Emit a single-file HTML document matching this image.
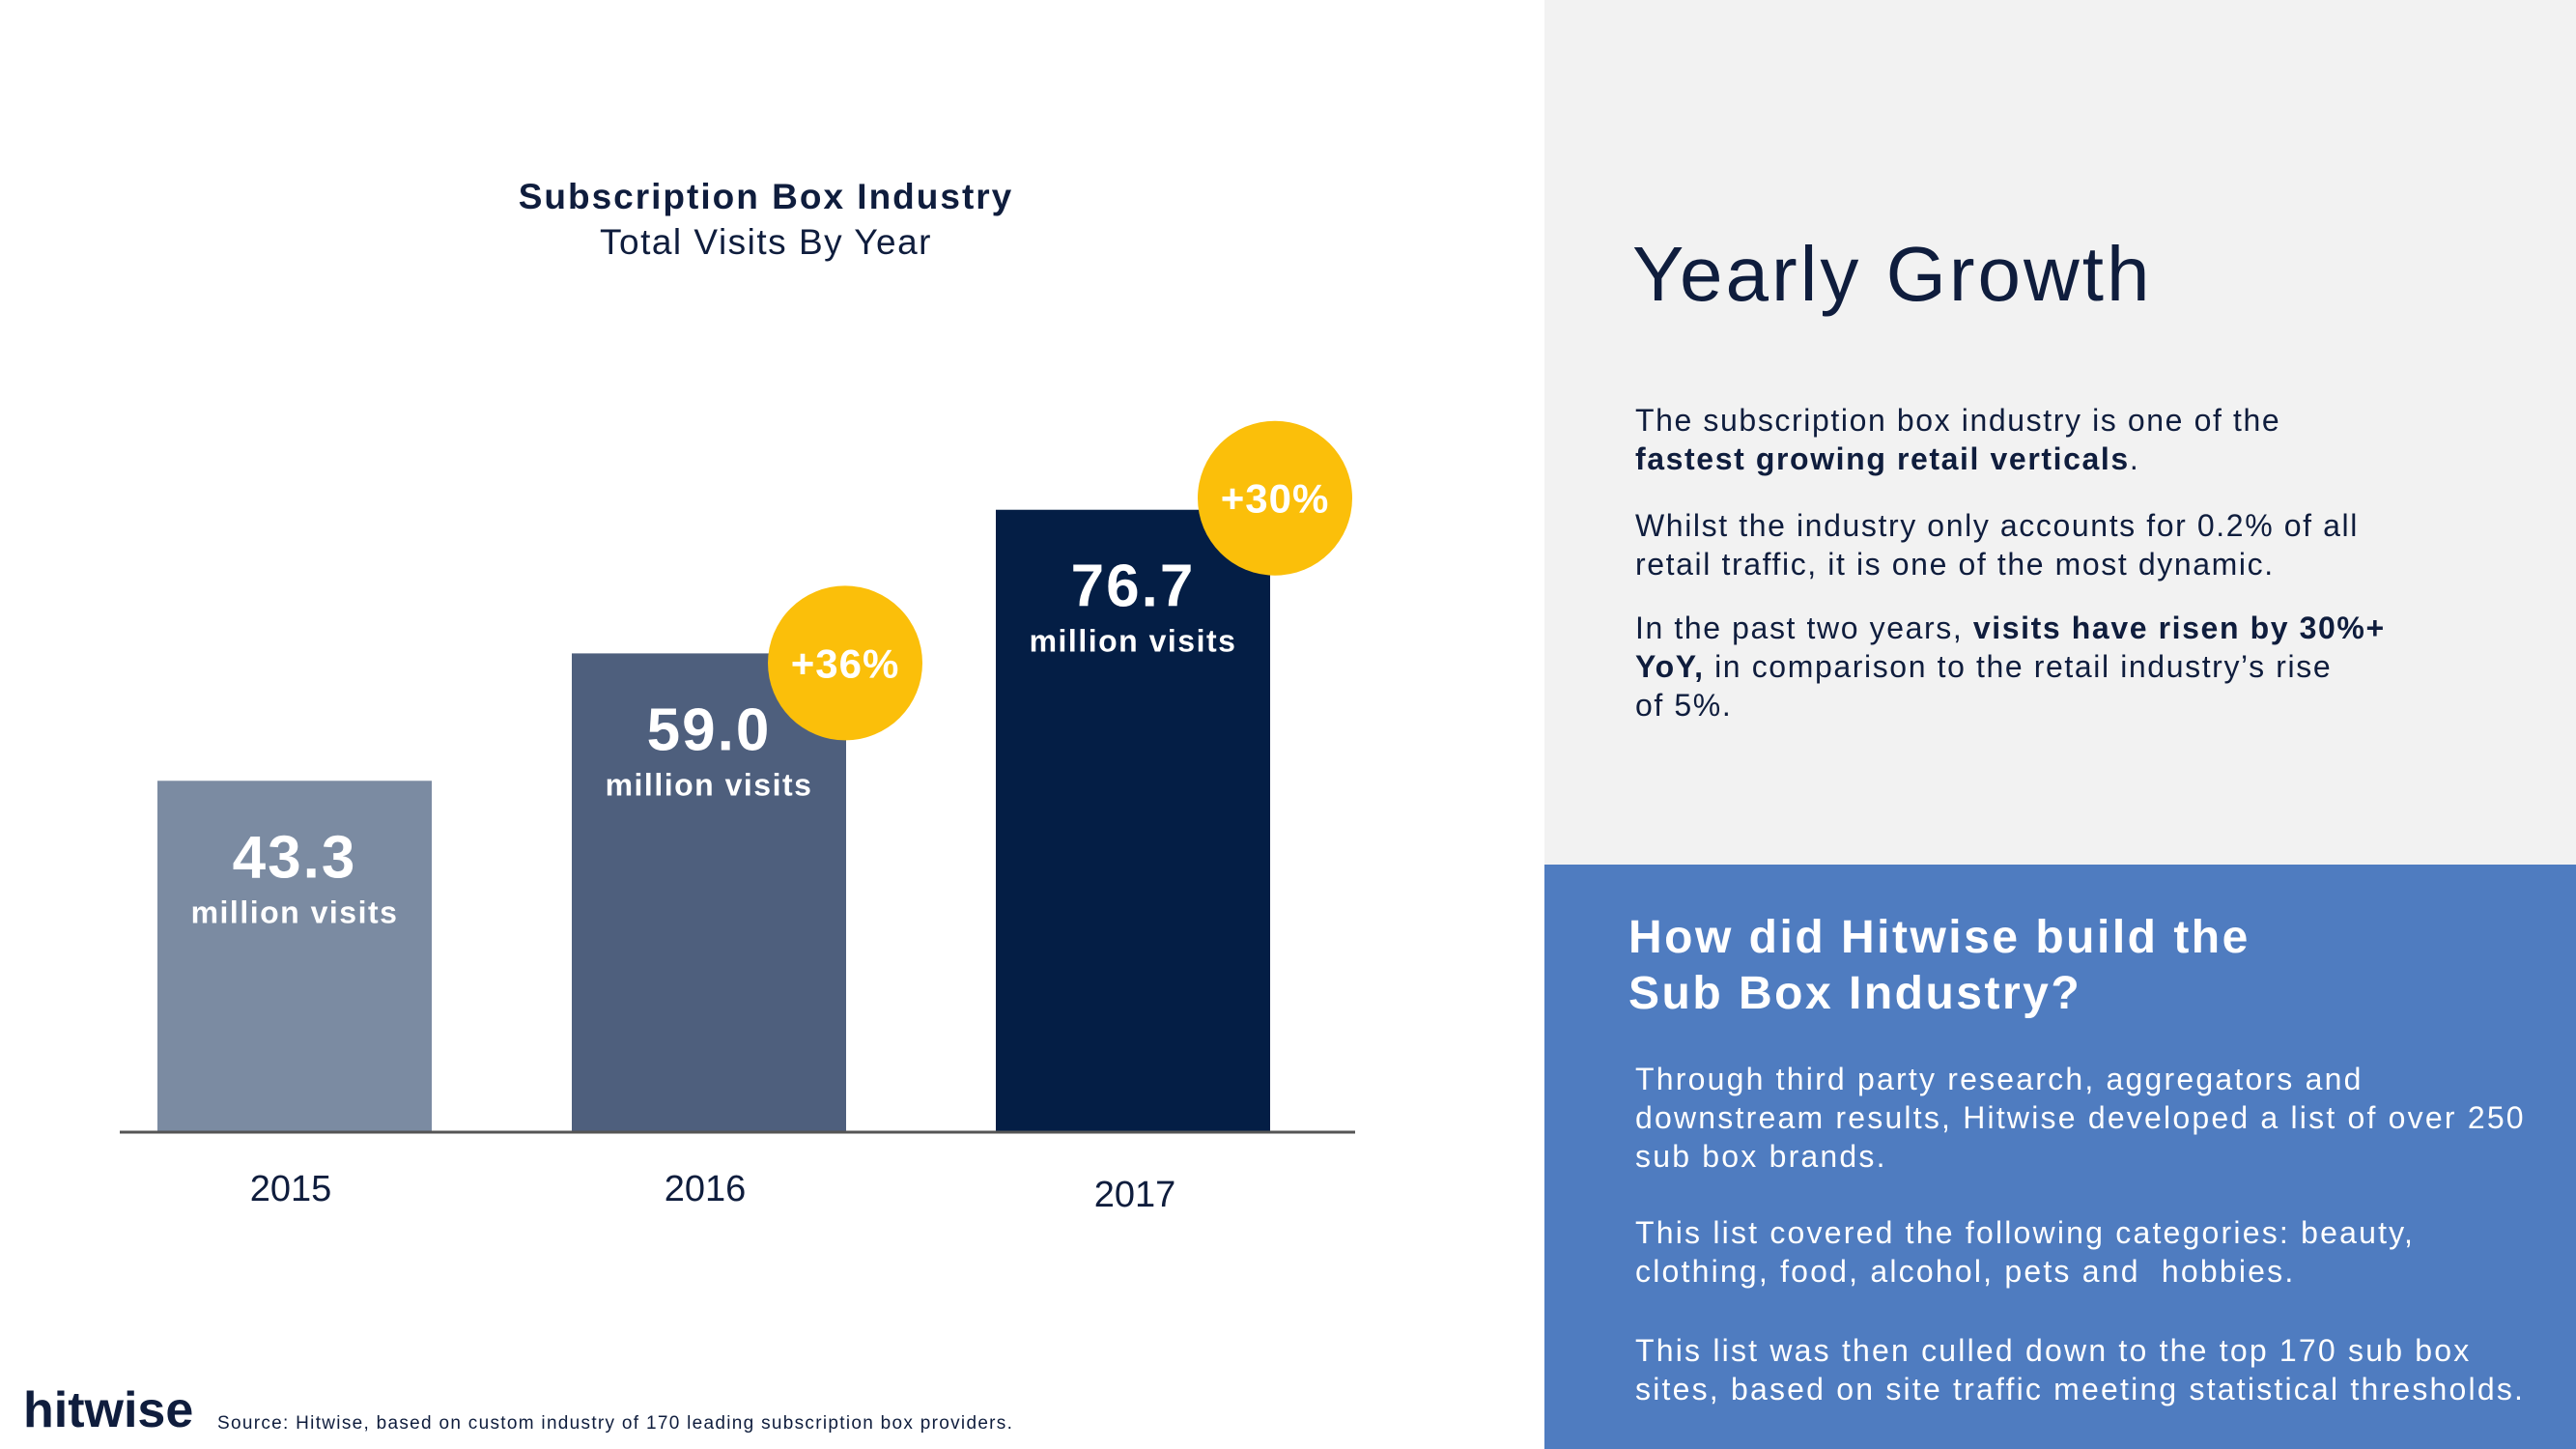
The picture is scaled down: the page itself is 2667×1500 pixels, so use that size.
<!DOCTYPE html>
<html><head><meta charset="utf-8"><style>
body{margin:0;width:2667px;height:1500px;position:relative;overflow:hidden;background:#fff;font-family:"Liberation Sans",sans-serif;color:#0f1d3d}
.a{position:absolute;white-space:nowrap}
.p{position:absolute;left:1693px;font-size:32px;line-height:40px;color:#0f1d3d;letter-spacing:1.6px;white-space:nowrap}
.bp{position:absolute;left:1693px;font-size:32px;line-height:40px;color:#fff;letter-spacing:2.2px;white-space:nowrap}
</style></head><body>
<div class="a" style="left:1599px;top:0;width:1068px;height:895px;background:#f2f2f2"></div>
<div class="a" style="left:1599px;top:895px;width:1068px;height:605px;background:#4f7cc0"></div>
<div class="a" style="left:393px;width:800px;text-align:center;top:183px;font-size:37px;font-weight:bold;letter-spacing:2px">Subscription Box Industry</div>
<div class="a" style="left:393px;width:800px;text-align:center;top:230px;font-size:37px;letter-spacing:1.5px">Total Visits By Year</div>
<svg id="chart" class="a" style="left:0;top:0" width="1599" height="1500"></svg>
<div class="a" style="left:1690px;top:238px;font-size:80px;letter-spacing:3px">Yearly Growth</div>
<div class="p" style="top:415px">The subscription box industry is one of the<br><b>fastest growing retail verticals</b>.</div>
<div class="p" style="top:524px">Whilst the industry only accounts for 0.2% of all<br>retail traffic, it is one of the most dynamic.</div>
<div class="p" style="top:630px">In the past two years, <b>visits have risen by 30%+<br>YoY,</b> in comparison to the retail industry’s rise<br>of 5%.</div>
<div class="a" style="left:1686px;top:942px;font-size:48px;line-height:58px;font-weight:bold;color:#fff;letter-spacing:2.5px">How did Hitwise build the<br>Sub Box Industry?</div>
<div class="bp" style="top:1097px">Through third party research, aggregators and<br>downstream results, Hitwise developed a list of over 250<br>sub box brands.</div>
<div class="bp" style="top:1256px">This list covered the following categories: beauty,<br>clothing, food, alcohol, pets and &nbsp;hobbies.</div>
<div class="bp" style="top:1378px">This list was then culled down to the top 170 sub box<br>sites, based on site traffic meeting statistical thresholds.</div>
<div class="a" style="left:24px;top:1430px;font-size:52px;font-weight:bold;letter-spacing:0px">hitwise</div>
<div class="a" style="left:225px;top:1463px;font-size:19px;letter-spacing:1.3px">Source: Hitwise, based on custom industry of 170 leading subscription box providers.</div>
<script>
const years=["2015","2016","2017"];
const visits=[43.3,59.0,76.7];
const growth=[null,"+36%","+30%"];
const colors=["#7b8ba2","#4e5f7d","#041e45"];
const NS="http://www.w3.org/2000/svg";
const svg=document.getElementById("chart");
const base=1172, pxPer=8.4;
const y=v=>base-v*pxPer;
const xs=[163,592,1031], bw=284;
const badgeDy=[0,10,-12];
function mk(t,a){const e=document.createElementNS(NS,t);for(const k in a)e.setAttribute(k,a[k]);svg.appendChild(e);return e;}
visits.forEach((v,i)=>{
 const r=mk("rect",{x:xs[i],y:y(v),width:bw,height:base-y(v),fill:colors[i]});
 
 
 const cx=xs[i]+bw/2;
 const t=mk("text",{x:cx,y:y(v)+100,"text-anchor":"middle","font-size":62,"font-weight":"bold",fill:"#fff","letter-spacing":2});t.textContent=v.toFixed(1);
 
 
 const m=mk("text",{x:cx,y:y(v)+147,"text-anchor":"middle","font-size":32,"font-weight":"bold",fill:"#fff","letter-spacing":1.5});m.textContent="million visits";
 
 
 const yl=mk("text",{x:cx+(i==2?2:-4),y:1243+(i==2?6:0),"text-anchor":"middle","font-size":38,fill:"#0f1d3d"});yl.textContent=years[i];
 
 
 if(growth[i]){
  const ccx=xs[i]+bw+(i==2?5:-1), ccy=y(v)+badgeDy[i];
  const c=mk("circle",{cx:ccx,cy:ccy,r:80,fill:"#fbbf0a"});
  
  
  const g=mk("text",{x:ccx,y:ccy+15,"text-anchor":"middle","font-size":42,"font-weight":"bold",fill:"#fff","letter-spacing":1});g.textContent=growth[i];
  
  
 }
});
const ax=mk("line",{x1:124,x2:1403,y1:base,y2:base,stroke:"#555",'stroke-width':3});


</script>
</body></html>
